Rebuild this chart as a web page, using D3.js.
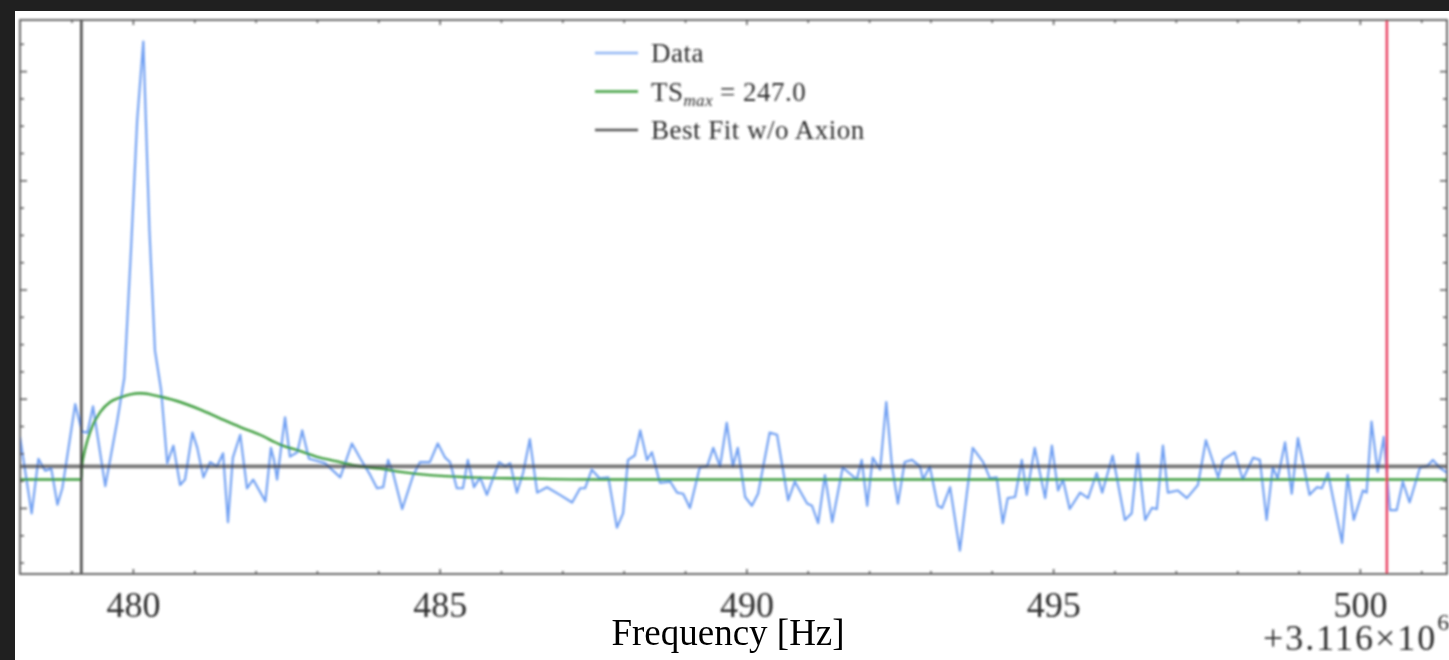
<!DOCTYPE html>
<html>
<head>
<meta charset="utf-8">
<script src="https://cdn.jsdelivr.net/npm/d3@7"></script>
<style>
  html, body { margin: 0; padding: 0; background: #202020; }
  svg { display: block; }
</style>
</head>
<body>
<svg id="chart" width="1449" height="660"></svg>
<script>
// Frequency axis offset (labels show f - 3.116e6 Hz)
const freqOffsetLabel = "+3.116×10";
const freqOffsetExp = "6";

// Measured power spectrum (arbitrary power units) vs frequency offset [Hz]
const dataFreq = [
  478.16, 478.35, 478.46, 478.57, 478.67, 478.77, 478.85, 479.06, 479.17, 479.26,
  479.35, 479.55, 479.74, 479.86, 479.97, 480.07, 480.17, 480.27, 480.36, 480.46,
  480.56, 480.66, 480.77, 480.85, 480.97, 481.05, 481.15, 481.26, 481.37, 481.47,
  481.55, 481.63, 481.75, 481.86, 481.96, 482.16, 482.25, 482.30, 482.35, 482.48,
  482.56, 482.68, 482.76, 482.87, 483.13, 483.38, 483.57, 483.70, 483.87, 483.98,
  484.08, 484.16, 484.24, 484.39, 484.57, 484.68, 484.84, 484.97, 485.09, 485.17,
  485.28, 485.38, 485.46, 485.56, 485.66, 485.77, 485.97, 486.07, 486.15, 486.26,
  486.36, 486.47, 486.59, 486.75, 486.96, 487.16, 487.29, 487.37, 487.48, 487.61,
  487.75, 487.89, 487.99, 488.07, 488.18, 488.27, 488.38, 488.46, 488.59, 488.76,
  488.87, 488.97, 489.08, 489.24, 489.36, 489.46, 489.57, 489.68, 489.78, 489.86,
  489.98, 490.09, 490.19, 490.38, 490.50, 490.68, 490.79, 490.99, 491.07, 491.17,
  491.28, 491.40, 491.57, 491.80, 491.88, 491.97, 492.06, 492.18, 492.28, 492.37,
  492.47, 492.58, 492.70, 492.83, 492.88, 492.99, 493.12, 493.19, 493.32, 493.48,
  493.60, 493.69, 493.86, 493.97, 494.08, 494.18, 494.26, 494.38, 494.49, 494.57,
  494.70, 494.87, 494.98, 495.08, 495.16, 495.27, 495.44, 495.57, 495.71, 495.80,
  495.97, 496.17, 496.28, 496.38, 496.50, 496.61, 496.69, 496.79, 496.87, 497.03,
  497.18, 497.36, 497.49, 497.69, 497.77, 497.96, 498.09, 498.26, 498.37, 498.48,
  498.58, 498.66, 498.78, 498.89, 498.99, 499.18, 499.30, 499.38, 499.48, 499.71,
  499.80, 499.90, 500.05, 500.11, 500.19, 500.29, 500.39, 500.49, 500.60, 500.70,
  500.81, 500.98, 501.09, 501.19, 501.30, 501.42
];
const dataPower = [
  0.65, -0.05, 0.45, 0.34, 0.36, 0.03, 0.18, 0.95, 0.70, 0.69,
  0.93, 0.20, 0.78, 1.19, 2.37, 3.55, 4.27, 2.54, 1.44, 1.08,
  0.41, 0.57, 0.21, 0.26, 0.69, 0.55, 0.28, 0.42, 0.38, 0.50,
  -0.13, 0.46, 0.67, 0.18, 0.26, 0.06, 0.55, 0.44, 0.26, 0.83,
  0.47, 0.51, 0.71, 0.45, 0.41, 0.28, 0.59, 0.46, 0.30, 0.18,
  0.19, 0.44, 0.32, -0.01, 0.30, 0.42, 0.42, 0.59, 0.46, 0.42,
  0.18, 0.18, 0.44, 0.19, 0.28, 0.12, 0.42, 0.38, 0.41, 0.14,
  0.32, 0.63, 0.14, 0.19, 0.12, 0.05, 0.18, 0.18, 0.35, 0.27,
  0.28, -0.18, -0.05, 0.44, 0.48, 0.71, 0.44, 0.51, 0.23, 0.24,
  0.14, 0.13, 0.00, 0.37, 0.38, 0.55, 0.38, 0.78, 0.38, 0.55,
  0.10, 0.02, 0.13, 0.69, 0.67, 0.07, 0.24, 0.04, 0.02, -0.14,
  0.30, -0.13, 0.37, 0.26, 0.44, 0.02, 0.46, 0.35, 0.97, 0.40,
  0.04, 0.42, 0.44, 0.38, 0.26, 0.38, 0.02, 0.00, 0.19, -0.39,
  0.16, 0.55, 0.42, 0.27, 0.28, -0.14, 0.09, 0.10, 0.44, 0.12,
  0.55, 0.09, 0.57, 0.16, 0.26, -0.01, 0.14, 0.09, 0.32, 0.14,
  0.48, -0.11, -0.05, 0.50, -0.11, 0.00, -0.01, 0.57, 0.14, 0.16,
  0.09, 0.21, 0.62, 0.28, 0.44, 0.51, 0.26, 0.46, 0.44, -0.11,
  0.37, 0.27, 0.60, 0.13, 0.64, 0.12, 0.19, 0.18, 0.32, -0.32,
  0.30, -0.11, 0.16, 0.14, 0.79, 0.33, 0.65, -0.02, -0.02, 0.24,
  0.05, 0.37, 0.38, 0.44, 0.37, 0.32
];

// Best-fit signal model (TS_max) sampled along the frequency axis
const fitFreq = [
  478.16, 479.16, 479.17, 479.21, 479.26, 479.34, 479.47, 479.63, 479.79, 479.96,
  480.12, 480.28, 480.44, 480.77, 481.10, 481.42, 481.75, 482.07, 482.40, 482.73,
  483.05, 483.38, 483.70, 484.03, 484.36, 484.84, 485.50, 486.31, 487.61, 501.42
];
const fitPower = [
  0.26, 0.26, 0.38, 0.51, 0.62, 0.75, 0.88, 0.97, 1.01, 1.04,
  1.05, 1.04, 1.02, 0.97, 0.90, 0.82, 0.74, 0.67, 0.58, 0.52,
  0.46, 0.42, 0.38, 0.36, 0.33, 0.30, 0.28, 0.27, 0.26, 0.26
];

// Background-only fit level and frequency markers
const nullLevel = [0.38];
const onsetFreq = [479.16];
const markerFreq = [500.44];

// Axis ticks
const xMajorTicks = [480, 485, 490, 495, 500];
const xMinorTicks = [479, 481, 482, 483, 484, 486, 487, 488, 489, 491, 492, 493, 494, 496, 497, 498, 499, 501];
const yMajorTicks = [0, 1, 2, 3, 4];
const yMinorTicks = [-0.5, -0.25, 0.25, 0.5, 0.75, 1.25, 1.5, 1.75, 2.25, 2.5, 2.75, 3.25, 3.5, 3.75, 4.25];

// Legend entries
const legendLabels = ["Data", "TS", "Best Fit w/o Axion"];
const legendColors = ["#6f9ff0", "#3f9f3f", "#555555"];

const svg = d3.select("#chart");
const W = 1449, H = 660;
const plot = { left: 20, right: 1447, top: 20, bottom: 574 };

const x = d3.scaleLinear().domain([478.16, 501.42]).range([plot.left, plot.right]);
const y = d3.scaleLinear().domain([-0.605, 4.468]).range([plot.bottom, plot.top]);

// Soft blur for the rendered figure
const defs = svg.append("defs");
defs.append("filter").attr("id", "soft")
  .attr("filterUnits", "userSpaceOnUse")
  .attr("x", 0).attr("y", 0).attr("width", W).attr("height", H)
  .append("feGaussianBlur").attr("stdDeviation", 1.0);
defs.append("clipPath").attr("id", "plotClip")
  .append("rect").attr("x", plot.left).attr("y", plot.top)
  .attr("width", plot.right - plot.left).attr("height", plot.bottom - plot.top);

svg.append("rect").attr("width", W).attr("height", H).attr("fill", "#202020");
svg.append("rect").attr("x", 15).attr("y", 11).attr("width", W - 15).attr("height", H - 11).attr("fill", "#ffffff");

const fig = svg.append("g").attr("filter", "url(#soft)");
const lines = fig.append("g").attr("clip-path", "url(#plotClip)");

const dataPts = dataFreq.map((f, i) => [f, dataPower[i]]);
const fitPts = fitFreq.map((f, i) => [f, fitPower[i]]);

const lineGen = d3.line().x(d => x(d[0])).y(d => y(d[1]));

lines.append("path").datum(dataPts)
  .attr("d", lineGen)
  .attr("fill", "none").attr("stroke", "#5a90f0").attr("stroke-width", 2.2)
  .attr("stroke-opacity", 0.85).attr("stroke-linejoin", "round");

lines.append("path").datum(fitPts)
  .attr("d", lineGen.curve(d3.curveMonotoneX))
  .attr("fill", "none").attr("stroke", "#3a9c3a").attr("stroke-width", 2.4);

lines.selectAll("line.null").data(nullLevel).enter().append("line")
  .attr("class", "null")
  .attr("x1", plot.left).attr("x2", plot.right)
  .attr("y1", d => y(d)).attr("y2", d => y(d))
  .attr("stroke", "#3c3c3c").attr("stroke-width", 3.8).attr("stroke-opacity", 0.7);

lines.selectAll("line.onset").data(onsetFreq).enter().append("line")
  .attr("class", "onset")
  .attr("x1", d => x(d)).attr("x2", d => x(d))
  .attr("y1", plot.top).attr("y2", plot.bottom)
  .attr("stroke", "#3c3c3c").attr("stroke-width", 2.4);

lines.selectAll("line.marker").data(markerFreq).enter().append("line")
  .attr("class", "marker")
  .attr("x1", d => x(d)).attr("x2", d => x(d))
  .attr("y1", plot.top).attr("y2", plot.bottom)
  .attr("stroke", "#e83a5c").attr("stroke-width", 2.4);

// Axes: inward ticks on all four sides, labels only on the bottom
const serif = "'Liberation Serif', 'DejaVu Serif', serif";
function styleAxis(g) {
  g.select(".domain").remove();
  g.selectAll(".tick line").attr("stroke", "#555").attr("stroke-width", 1.5);
}

const bottomMajor = fig.append("g").attr("transform", `translate(0,${plot.bottom})`)
  .call(d3.axisBottom(x).tickValues(xMajorTicks).tickSize(-5).tickPadding(17).tickFormat(d3.format("d")));
styleAxis(bottomMajor);
bottomMajor.selectAll(".tick text")
  .attr("font-family", serif).attr("font-size", 36).attr("fill", "#2e2e2e");

const bottomMinor = fig.append("g").attr("transform", `translate(0,${plot.bottom})`)
  .call(d3.axisBottom(x).tickValues(xMinorTicks).tickSize(-3).tickFormat(""));
styleAxis(bottomMinor);

const topMajor = fig.append("g").attr("transform", `translate(0,${plot.top})`)
  .call(d3.axisTop(x).tickValues(xMajorTicks).tickSize(-5).tickFormat(""));
styleAxis(topMajor);
const topMinor = fig.append("g").attr("transform", `translate(0,${plot.top})`)
  .call(d3.axisTop(x).tickValues(xMinorTicks).tickSize(-3).tickFormat(""));
styleAxis(topMinor);

const leftMajor = fig.append("g").attr("transform", `translate(${plot.left},0)`)
  .call(d3.axisLeft(y).tickValues(yMajorTicks).tickSize(-7).tickFormat(""));
styleAxis(leftMajor);
const leftMinor = fig.append("g").attr("transform", `translate(${plot.left},0)`)
  .call(d3.axisLeft(y).tickValues(yMinorTicks).tickSize(-4).tickFormat(""));
styleAxis(leftMinor);
const rightMajor = fig.append("g").attr("transform", `translate(${plot.right},0)`)
  .call(d3.axisRight(y).tickValues(yMajorTicks).tickSize(-7).tickFormat(""));
styleAxis(rightMajor);
const rightMinor = fig.append("g").attr("transform", `translate(${plot.right},0)`)
  .call(d3.axisRight(y).tickValues(yMinorTicks).tickSize(-4).tickFormat(""));
styleAxis(rightMinor);

fig.append("rect")
  .attr("x", plot.left).attr("y", plot.top)
  .attr("width", plot.right - plot.left).attr("height", plot.bottom - plot.top)
  .attr("fill", "none").attr("stroke", "#5a5a5a").attr("stroke-width", 1.8);

// Offset notation for the frequency axis
const off = fig.append("text")
  .attr("x", 1263).attr("y", 650)
  .attr("font-family", serif).attr("font-size", 36).attr("fill", "#2e2e2e")
  .attr("letter-spacing", 2);
off.append("tspan").text(freqOffsetLabel);
off.append("tspan").attr("dy", -20).attr("font-size", 24).text(freqOffsetExp);

// Legend
const legend = fig.append("g").attr("transform", "translate(595,53)");
const legendRows = legend.selectAll("g").data(legendLabels).enter().append("g")
  .attr("transform", (d, i) => `translate(0,${i * 38.5})`);
legendRows.append("line")
  .attr("x1", 0).attr("x2", 43).attr("y1", 0).attr("y2", 0)
  .attr("stroke", (d, i) => legendColors[i]).attr("stroke-width", 2.6)
  .attr("stroke-opacity", (d, i) => i === 0 ? 0.75 : 1);
const legendText = legendRows.append("text")
  .attr("x", 56).attr("y", 9)
  .attr("font-family", serif).attr("font-size", 27).attr("fill", "#2e2e2e")
  .attr("letter-spacing", 0.5);
legendText.each(function(d, i) {
  const t = d3.select(this);
  if (i === 1) {
    t.append("tspan").text(d);
    t.append("tspan").attr("dy", 5).attr("font-size", 17).attr("font-style", "italic").attr("letter-spacing", 0.3).text("max");
    t.append("tspan").attr("dy", -5).text(" = 247.0");
  } else {
    t.text(d);
  }
});

// Axis title
svg.append("text")
  .attr("x", 728).attr("y", 645)
  .attr("text-anchor", "middle")
  .attr("font-family", serif).attr("font-size", 37).attr("fill", "#000")
  .text("Frequency [Hz]");
</script>
</body>
</html>
